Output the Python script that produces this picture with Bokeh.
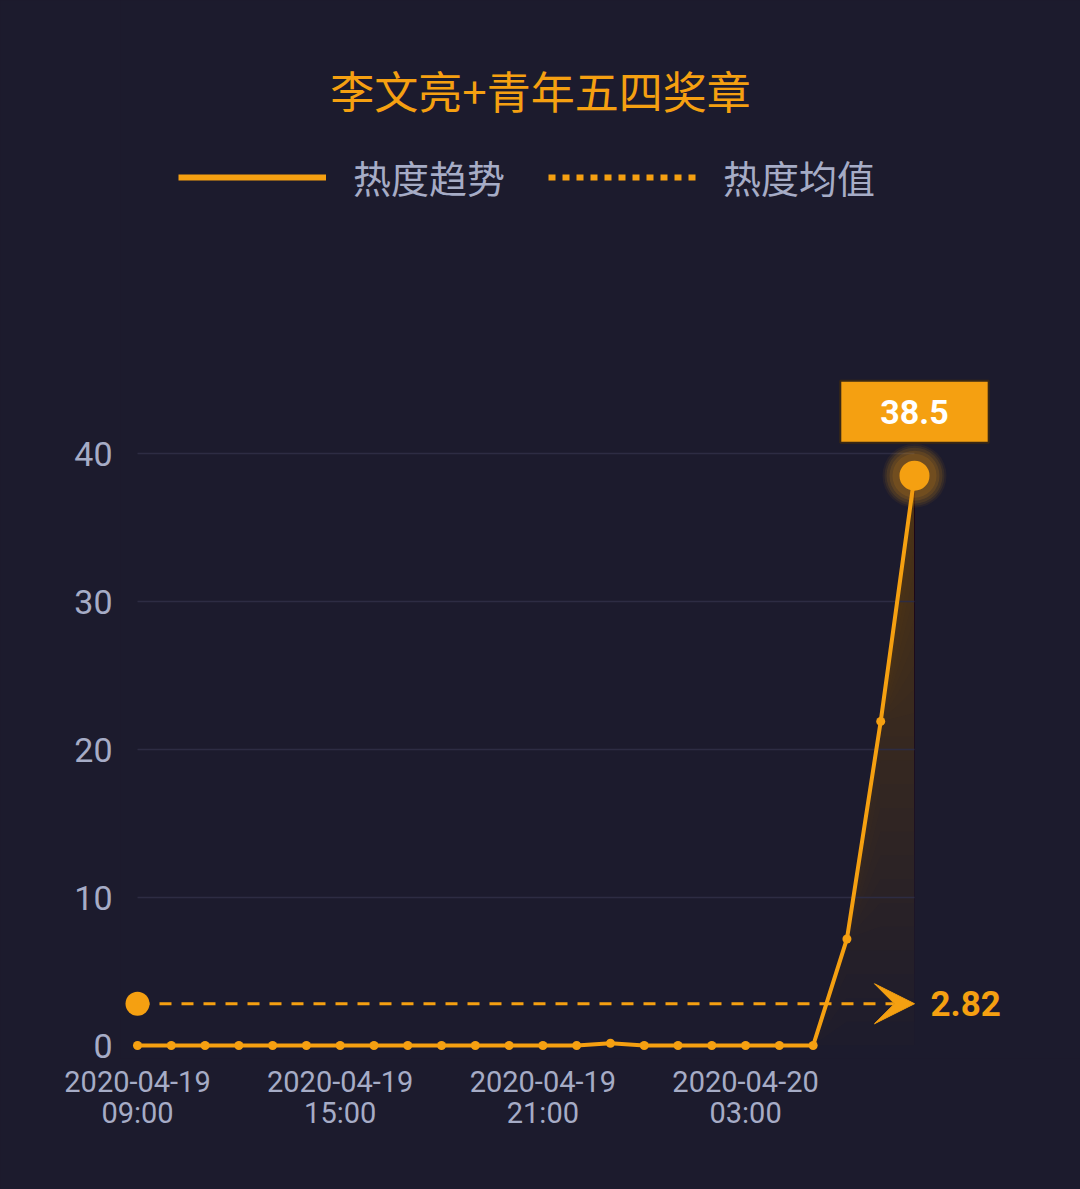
from bokeh.plotting import figure
from bokeh.models import (Range1d, FixedTicker, Label, Legend, LegendItem, Arrow, VeeHead,
                          ColumnDataSource)
from bokeh.core.properties import value
from bokeh.embed import file_html
from bokeh.resources import INLINE

# ---------------- data ----------------
title_text = "李文亮+青年五四奖章"
series_name = "热度趋势"
mean_name = "热度均值"
times = ["2020-04-19 09:00", "2020-04-19 10:00", "2020-04-19 11:00", "2020-04-19 12:00",
         "2020-04-19 13:00", "2020-04-19 14:00", "2020-04-19 15:00", "2020-04-19 16:00",
         "2020-04-19 17:00", "2020-04-19 18:00", "2020-04-19 19:00", "2020-04-19 20:00",
         "2020-04-19 21:00", "2020-04-19 22:00", "2020-04-19 23:00", "2020-04-20 00:00",
         "2020-04-20 01:00", "2020-04-20 02:00", "2020-04-20 03:00", "2020-04-20 04:00",
         "2020-04-20 05:00", "2020-04-20 06:00", "2020-04-20 07:00", "2020-04-20 08:00"]
heat = [0, 0, 0, 0, 0, 0, 0, 0, 0, 0, 0, 0, 0, 0, 0.15, 0, 0, 0, 0, 0, 0, 7.2, 21.9, 38.5]
y_ticks = [0, 10, 20, 30, 40]
x_tick_idx = [0, 6, 12, 18]

# ---------------- style ----------------
BG = "#1c1b2d"
ORANGE = "#f5a011"
GRAY = "#a6acc6"
GRID = "#2d2c43"
CJK = "Noto Sans CJK SC"
NUM = "Roboto"

xs = list(range(len(heat)))
n = len(heat)
mean_val = sum(heat) / n
vmax = max(heat)
imax = heat.index(vmax)

W, H = 1080, 1189
p = figure(width=W, height=H, output_backend="svg", toolbar_location=None,
           x_range=Range1d(-0.5032, 27.914), y_range=Range1d(-0.878, 70.61),
           background_fill_color=BG, border_fill_color=BG,
           min_border_left=120, min_border_right=0, min_border_top=0, min_border_bottom=131)
p.outline_line_color = None
p.grid.visible = False

# axes
p.yaxis.ticker = FixedTicker(ticks=y_ticks)
p.yaxis.axis_line_color = None
p.yaxis.major_tick_line_color = None
p.yaxis.minor_tick_line_color = None
p.yaxis.major_label_standoff = 2
p.yaxis.major_label_text_font = NUM
p.yaxis.major_label_text_font_size = "34px"
p.yaxis.major_label_text_color = GRAY

p.xaxis.ticker = FixedTicker(ticks=x_tick_idx)
p.xaxis.major_label_overrides = {i: times[i].replace(" ", "\n") for i in x_tick_idx}
p.xaxis.axis_line_color = None
p.xaxis.major_tick_line_color = None
p.xaxis.minor_tick_line_color = None
p.xaxis.major_label_standoff = 0
p.xaxis.major_label_text_font = NUM
p.xaxis.major_label_text_font_size = "29px"
p.xaxis.major_label_text_color = GRAY
p.xaxis.major_label_text_line_height = 0.92

# area under the curve: vertical gradient built from stacked translucent layers
levels = 24
for k in range(levels):
    base = k / levels * vmax
    p.varea(x=xs, y1=[min(v, base) for v in heat], y2=heat,
            fill_color=ORANGE, fill_alpha=0.0115)

# horizontal grid lines limited to the data extent
gl = [t for t in y_ticks if t != 0]
p.segment(x0=[xs[0]] * len(gl), x1=[xs[-1]] * len(gl), y0=gl, y1=gl,
          line_color=GRID, line_width=1.5)

# mean line with start dot and arrow
p.add_layout(Arrow(x_start=xs[0], y_start=mean_val, x_end=xs[-1], y_end=mean_val,
                   line_color=ORANGE, line_width=3, line_dash="12 10",
                   end=VeeHead(size=40, fill_color=ORANGE, line_color=ORANGE, line_width=1)))
p.scatter(x=[xs[0]], y=[mean_val], size=24, marker="circle", fill_color=ORANGE, line_color=None)
p.text(x=[xs[-1]], y=[mean_val], text=[f"{mean_val:.2f}"], x_offset=16,
       text_baseline="middle", text_align="left", text_color=ORANGE,
       text_font=value(NUM), text_font_style="bold", text_font_size="35px")

# main line + points
src = ColumnDataSource(dict(x=xs, y=heat))
p.line(x="x", y="y", source=src, line_color=ORANGE, line_width=4)
p.scatter(x="x", y="y", source=src, size=9, marker="circle", fill_color=ORANGE, line_color=None)

# max mark point with soft glow
for s, a in [(64, 0.06), (60, 0.08), (56, 0.10), (50, 0.12), (44, 0.12)]:
    p.scatter(x=[xs[imax]], y=[vmax], size=s, marker="circle", fill_color=ORANGE,
              fill_alpha=a, line_color=None)
p.scatter(x=[xs[imax]], y=[vmax], size=30, marker="circle", fill_color=ORANGE,
          line_color=None)
p.add_layout(Label(x=xs[imax], y=vmax, text=f"{vmax}", y_offset=33,
                   text_align="center", text_baseline="bottom", text_color="white",
                   text_font=NUM, text_font_style="bold", text_font_size="34px",
                   background_fill_color=ORANGE, border_line_color="#3a2814",
                   border_line_width=2, padding=(40, 19)))

# title
p.add_layout(Label(x=420, y=969, x_units="screen", y_units="screen", text=title_text,
                   text_align="center", text_baseline="middle", text_color=ORANGE,
                   text_font=CJK, text_font_size="44px"))

# legend (hidden renderers carry the legend styles)
nan2 = [float("nan"), float("nan")]
r1 = p.line(x=[xs[0], xs[-1]], y=nan2, line_color=ORANGE, line_width=6)
r2 = p.line(x=[xs[0], xs[-1]], y=nan2, line_color=ORANGE, line_width=6, line_dash="7 7")
legend = Legend(items=[LegendItem(label=series_name, renderers=[r1]),
                       LegendItem(label=mean_name, renderers=[r2])],
                orientation="horizontal", location=(58, 854),
                glyph_width=148, glyph_height=40, label_height=40, label_standoff=27,
                spacing=43, padding=0, margin=0,
                background_fill_alpha=0, border_line_color=None,
                label_text_font=CJK, label_text_font_size="38px", label_text_color=GRAY)
p.add_layout(legend, "center")

html = file_html(p, INLINE, title=title_text)
html = html.replace("</head>",
                    f"<style>html,body{{margin:0;padding:0;background:{BG};overflow:hidden;}}</style></head>", 1)
open("out.html", "w").write(html)
